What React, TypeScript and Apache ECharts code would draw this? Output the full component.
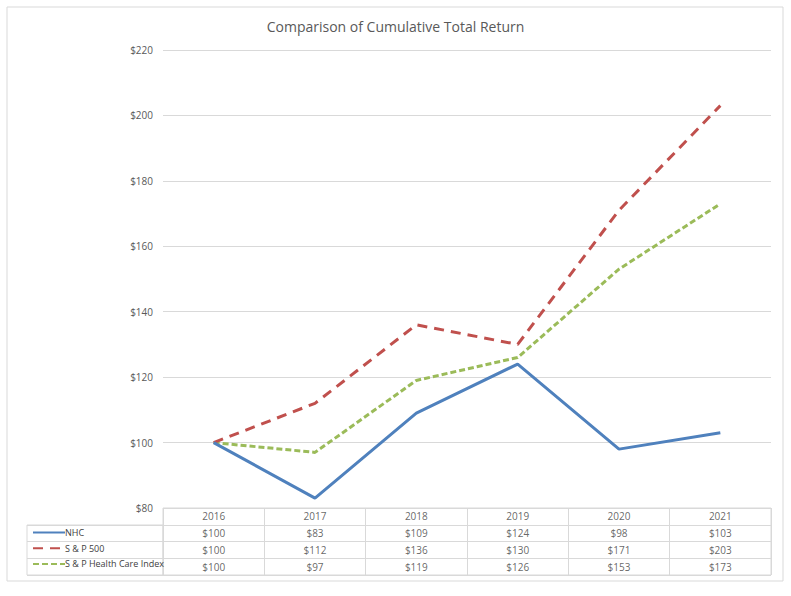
import React, { useEffect, useRef } from "react";
import * as echarts from "echarts";

const years = ["2016", "2017", "2018", "2019", "2020", "2021"];
const seriesNames = ["NHC", "S & P 500", "S & P Health Care Index"];
const nhc = [100, 83, 109, 124, 98, 103];
const sp500 = [100, 112, 136, 130, 171, 203];
const spHealth = [100, 97, 119, 126, 153, 173];
const yTicks = { min: 80, max: 220, interval: 20 };

const colors = ["#4F81BD", "#C0504D", "#9BBB59"];
const dashes: any[] = ["solid", [10, 7], [6, 3]];
const FONT = "'Open Sans', 'Noto Sans', sans-serif";

export default function App() {
  const ref = useRef<HTMLDivElement>(null);
  useEffect(() => {
    if (!ref.current) return;
    const chart = echarts.init(ref.current, undefined, { renderer: "svg" });
    const allSeries = [nhc, sp500, spHealth];
    const tableRows = ["hdr", ...seriesNames];
    const tableData: any[] = [];
    allSeries.forEach((vals, si) => {
      vals.forEach((v, i) => {
        tableData.push({ value: [years[i], seriesNames[si]], text: "$" + v });
      });
    });
    years.forEach((y) => tableData.push({ value: [y, "hdr"], text: y }));

    const option: any = {
      animation: false,
      backgroundColor: "#ffffff",
      textStyle: { fontFamily: FONT },
      title: {
        text: "Comparison of Cumulative Total Return",
        left: "center",
        top: 14,
        textStyle: { fontFamily: FONT, fontSize: 14, fontWeight: "normal", color: "#595959" },
      },
      legend: {
        orient: "vertical",
        left: 27,
        top: 523,
        itemWidth: 32,
        itemHeight: 10,
        itemGap: 6.7,
        data: seriesNames,
        itemStyle: { color: "transparent", borderColor: "transparent", borderWidth: 0 },
        textStyle: { fontFamily: FONT, fontSize: 9, color: "#404040", padding: [0, 0, 0, -5] },
      },
      graphic: [
        {
          type: "rect",
          shape: { x: 7, y: 7, width: 776, height: 574 },
          style: { fill: "none", stroke: "#d9d9d9", lineWidth: 1 },
          silent: true,
        },
      ],
      grid: [
        { left: 163, right: 20, top: 50, height: 458 },
        { left: 163, right: 20, top: 508, height: 67, show: true, borderColor: "#d9d9d9", borderWidth: 1 },
        { left: 27, width: 136, top: 525, height: 50, show: true, borderColor: "#d9d9d9", borderWidth: 1 },
      ],
      xAxis: [
        {
          gridIndex: 0,
          type: "category",
          data: years,
          boundaryGap: true,
          axisLine: { show: false },
          axisTick: { show: false },
          axisLabel: { show: false },
        },
        {
          gridIndex: 1,
          type: "category",
          data: years,
          boundaryGap: true,
          axisLine: { show: false },
          axisTick: { show: false, interval: 0 },
          axisLabel: { show: false, interval: 0 },
          splitLine: { show: true, interval: 0, lineStyle: { color: "#d9d9d9", width: 1 } },
        },
        {
          gridIndex: 2,
          type: "value",
          show: false,
        },
      ],
      yAxis: [
        {
          gridIndex: 0,
          type: "value",
          min: yTicks.min,
          max: yTicks.max,
          interval: yTicks.interval,
          axisLine: { show: false },
          axisTick: { show: false },
          axisLabel: {
            formatter: (v: number) => "$" + v,
            color: "#595959",
            fontSize: 10,
            margin: 10,
            fontFamily: FONT,
          },
          splitLine: { lineStyle: { color: "#d9d9d9", width: 1 } },
        },
        {
          gridIndex: 1,
          type: "category",
          data: tableRows,
          inverse: true,
          axisLine: { show: false },
          axisTick: { show: false, interval: 0 },
          axisLabel: { show: false, interval: 0 },
          splitLine: { show: true, interval: 0, lineStyle: { color: "#d9d9d9", width: 1 } },
        },
        {
          gridIndex: 2,
          type: "category",
          data: seriesNames,
          inverse: true,
          axisLine: { show: false },
          axisTick: { show: false, interval: 0 },
          axisLabel: { show: false, interval: 0 },
          splitLine: { show: true, interval: 0, lineStyle: { color: "#d9d9d9", width: 1 } },
        },
      ],
      series: [
        ...allSeries.map((vals, i) => ({
          name: seriesNames[i],
          type: "line",
          xAxisIndex: 0,
          yAxisIndex: 0,
          data: vals,
          symbol: "none",
          color: colors[i],
          lineStyle: { color: colors[i], width: 3, type: dashes[i], cap: "butt" },
          z: 3 - i,
        })),
        {
          type: "scatter",
          xAxisIndex: 1,
          yAxisIndex: 1,
          data: tableData,
          symbolSize: 1,
          itemStyle: { color: "transparent" },
          silent: true,
          label: {
            show: true,
            position: "inside",
            formatter: (p: any) => p.data.text,
            color: "#404040",
            fontSize: 10,
            fontFamily: FONT,
          },
        },
      ],
    };
    chart.setOption(option);
    return () => chart.dispose();
  }, []);
  return (
    <div
      ref={ref}
      style={{ position: "absolute", left: 0, top: 0, width: 791, height: 596 }}
    />
  );
}
